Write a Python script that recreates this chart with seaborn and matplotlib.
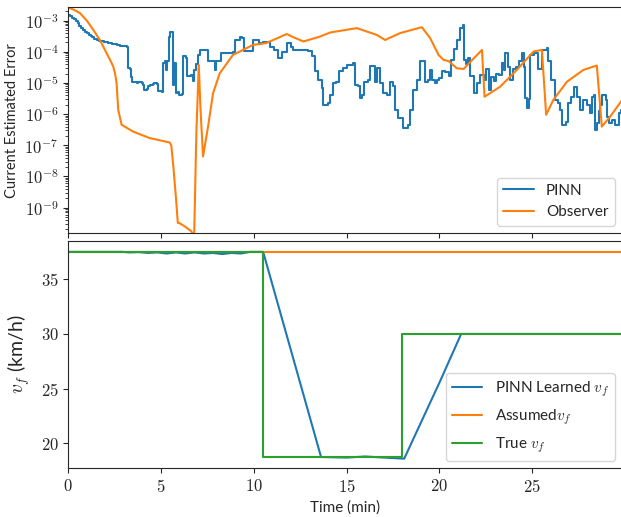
import numpy as np
import pandas as pd
import matplotlib
matplotlib.use("Agg")
import matplotlib.pyplot as plt
import matplotlib.ticker as mticker
import seaborn as sns

# PINN estimated error (time in min, log10 of error)
pinn_t = [0.0, 0.1, 0.2, 0.3, 0.4, 0.5, 0.6, 0.7, 0.81, 0.9, 1.0, 1.1, 1.2, 1.3, 1.4, 1.53, 1.65,
          1.8, 1.9, 2.0, 2.12, 2.24, 2.37, 2.5, 2.65, 2.8, 3.0, 3.14, 3.19, 3.35, 3.38, 3.41, 3.70,
          3.75, 3.95, 4.00,
          4.07, 4.25, 4.30, 4.40, 4.55, 4.60, 4.80, 4.85, 5.05, 5.08, 5.12, 5.20, 5.25, 5.33, 5.43,
          5.50, 5.62, 5.66, 5.72, 5.80, 5.90, 5.97, 6.10, 6.18, 6.35, 6.42, 6.60, 6.72, 6.80, 6.90,
          7.00, 7.10, 7.45, 7.53, 7.80, 7.89, 7.95, 8.25, 8.90, 8.96, 9.23, 9.35, 9.45, 9.85, 9.95,
          10.3, 10.5, 10.87, 11.1, 11.32, 11.5, 11.77, 12.0, 12.13, 12.94, 13.12, 13.30, 13.48, 13.66,
          13.75, 14.0, 14.11, 14.29, 14.45, 14.56, 14.80, 15.0, 15.36, 15.45, 15.60, 15.72, 15.85,
          15.95, 16.15, 16.26, 16.45, 16.52, 16.63, 16.80, 16.98, 17.15, 17.34, 17.50, 17.61, 17.79,
          17.95, 18.06, 18.30, 18.42, 18.60, 18.78, 18.96, 19.10, 19.23, 19.40, 19.50, 19.60, 19.75,
          19.85, 20.0, 20.13, 20.30, 20.49, 20.60, 20.80, 20.94, 21.12, 21.27, 21.33, 21.45, 21.52,
          21.66, 21.84, 22.0, 22.2, 22.4, 22.5, 22.65, 22.8, 22.95, 23.05, 23.2, 23.37, 23.46, 23.55,
          23.7, 23.8, 23.95, 24.1, 24.3, 24.44, 24.55, 24.62, 24.71, 24.80, 24.89, 25.1, 25.3, 25.52,
          25.79, 25.85, 26.0, 26.24, 26.40, 26.51, 26.60, 26.80, 26.95, 27.1, 27.23, 27.40, 27.58,
          27.75, 27.95, 28.1, 28.22, 28.35, 28.40, 28.50, 28.58, 28.66, 28.76, 28.95, 29.05, 29.15,
          29.30, 29.47, 29.65, 29.78, 29.85]
pinn_log = [-2.82, -2.86, -2.90, -2.96, -3.02, -3.09, -3.16, -3.23, -3.30, -3.36, -3.41, -3.46, -3.50,
            -3.54, -3.58, -3.62, -3.64, -3.66, -3.675, -3.69, -3.705, -3.72, -3.74, -3.76, -3.78,
            -3.80, -3.82, -3.83, -4.53, -4.56,
            -4.80, -4.96, -5.00, -4.96, -5.00, -5.05, -5.22, -5.18, -5.10, -5.05, -5.03, -5.00, -5.03,
            -5.27, -5.30, -5.10, -4.37, -4.28, -4.60, -4.30, -3.51, -3.35, -3.35, -5.06, -4.37, -5.33,
            -5.30, -5.38, -5.35, -4.15, -4.20, -4.79, -4.75, -4.93, -4.60, -4.40, -4.10, -3.94, -3.94,
            -4.31, -4.30, -4.58, -4.30, -4.04, -4.00, -3.62, -3.51, -3.55, -3.99, -3.99, -3.62, -3.72,
            -3.68, -3.83, -3.95, -4.21, -4.00, -3.72, -3.85, -3.94, -3.96, -4.15, -4.63, -4.90, -5.17,
            -5.70, -5.65, -5.38, -5.01, -4.96, -4.63, -4.52, -4.42, -4.37, -5.06, -5.10, -5.49, -5.40,
            -4.96, -4.90, -4.47, -4.47, -4.96, -4.53, -5.01, -5.33, -5.38, -4.96, -5.10, -5.86, -6.13,
            -6.13, -6.45, -6.35, -5.86, -5.22, -4.90, -4.31, -4.31, -4.96, -4.90, -4.58, -4.90, -5.00,
            -4.90, -4.85, -4.63, -4.66, -4.79, -4.26, -3.90, -3.62, -3.24, -3.14, -4.26, -4.40, -4.20,
            -4.79, -5.33, -5.00, -4.75, -4.90, -4.55, -5.22, -4.80, -4.95, -4.70, -4.75, -4.37, -4.60,
            -4.04, -4.50, -4.90, -4.55, -4.50, -4.30, -4.04, -4.50, -5.49, -5.81, -5.50, -4.10, -4.04,
            -4.55, -3.94, -3.89, -4.30, -4.90, -5.54, -5.65, -5.86, -6.34, -6.25, -5.65, -5.45, -5.12,
            -5.45, -5.86, -5.54, -5.70, -5.95, -5.44, -5.38, -6.50, -6.30, -5.90, -5.70, -5.38, -5.54,
            -6.08, -6.30, -6.20, -6.34, -5.95, -5.86, -5.86]

# Observer estimated error
obs_t = [0.0, 0.3, 0.63, 1.00, 1.35, 1.70, 2.06, 2.30, 2.42, 2.52, 2.60, 2.69, 2.87, 3.49, 4.39, 5.46,
         5.55, 5.66, 5.81, 5.90, 6.00, 6.27, 6.63, 6.78, 6.90, 7.03, 7.12, 7.26, 7.53, 7.80, 8.16,
         8.87, 9.95, 10.66, 11.77, 12.20, 12.67, 13.57, 14.11, 15.55, 16.63, 17.07, 17.88, 19.05,
         19.5, 19.95, 20.22, 20.50, 20.94, 21.3, 22.29, 22.43, 23.27, 24.17, 25.07, 25.52, 25.75,
         26.14, 26.87, 27.76, 28.48, 28.75, 29.2, 29.85]
obs_log = [-2.58, -2.65, -2.76, -3.00, -3.30, -3.62, -4.04, -4.32, -4.47, -4.70, -5.00, -5.86, -6.34,
           -6.56, -6.77, -6.91, -7.00, -7.68, -8.75, -9.49, -9.50, -9.60, -9.76, -9.95, -6.61, -4.42,
           -5.80, -7.36, -6.40, -5.33, -4.69, -4.10, -3.78, -3.72, -3.43, -3.55, -3.67, -3.51, -3.38,
           -3.24, -3.46, -3.62, -3.40, -3.21, -3.56, -4.10, -4.26, -4.30, -4.53, -4.55, -3.94, -5.44,
           -5.12, -4.58, -3.99, -3.94, -6.02, -5.54, -4.96, -4.58, -4.44, -6.40, -6.08, -5.54]

# free-flow speed v_f (km/h)
learned_t = [0, 2.9, 3.3, 3.8, 4.3, 4.8, 5.3, 5.8, 6.3, 6.8, 7.3, 7.8, 8.3, 8.8, 9.3, 9.8, 10.5,
             13.62, 15.0, 16.0, 17.0, 18.1, 20.04, 21.17, 25.0, 29.85]
learned_v = [37.5, 37.5, 37.45, 37.48, 37.4, 37.45, 37.35, 37.45, 37.35, 37.45, 37.35, 37.4, 37.3,
             37.4, 37.35, 37.5, 37.5, 18.75, 18.7, 18.8, 18.7, 18.6, 25.7, 30.0, 30.0, 30.0]
assumed_t = [0, 29.85]
assumed_v = [37.5, 37.5]
true_t = [0, 10.5, 10.5, 18.0, 18.0, 29.85]
true_v = [37.5, 37.5, 18.75, 18.75, 30.0, 30.0]

err_ticks = [1e-9, 1e-8, 1e-7, 1e-6, 1e-5, 1e-4, 1e-3]

sns.set_style("ticks")
plt.rcParams["font.family"] = ["Lato", "DejaVu Sans"]
plt.rcParams["mathtext.fontset"] = "cm"
pal = sns.color_palette("tab10")

fig = plt.figure(figsize=(6.21, 5.17), dpi=100)
ax1 = fig.add_axes([0.110, 0.549, 0.892, 0.437])
ax2 = fig.add_axes([0.110, 0.094, 0.892, 0.440], sharex=ax1)

err = pd.DataFrame({"t": pinn_t, "e": 10 ** np.array(pinn_log)})
obs = pd.DataFrame({"t": obs_t, "e": 10 ** np.array(obs_log)})
sns.lineplot(data=err, x="t", y="e", ax=ax1, color=pal[0], lw=1.5, label="PINN",
             estimator=None, sort=False, drawstyle="steps-post")
sns.lineplot(data=obs, x="t", y="e", ax=ax1, color=pal[1], lw=1.5, label="Observer",
             estimator=None, sort=False)
ax1.set_yscale("log")
ax1.set_ylim(10 ** -9.82, 10 ** -2.57)
ax1.yaxis.set_major_locator(mticker.FixedLocator(err_ticks))
ax1.yaxis.set_minor_locator(mticker.LogLocator(base=10, subs=np.arange(2, 10), numticks=20))
ax1.yaxis.set_major_formatter(mticker.FuncFormatter(lambda v, p: r"$10^{%d}$" % round(np.log10(v))))
ax1.yaxis.set_minor_formatter(mticker.NullFormatter())
ax1.set_ylabel("Current Estimated Error", fontsize=10.5)
ax1.set_xlabel("")
ax1.tick_params(labelbottom=False, labelsize=12)
ax1.legend(loc="lower right", fontsize=11, handlelength=2.0)

sns.lineplot(x=learned_t, y=learned_v, ax=ax2, color=pal[0], lw=1.5, label=r"PINN Learned $v_f$",
             estimator=None, sort=False)
sns.lineplot(x=assumed_t, y=assumed_v, ax=ax2, color=pal[1], lw=1.5, label=r"Assumed$v_f$",
             estimator=None, sort=False)
sns.lineplot(x=true_t, y=true_v, ax=ax2, color=pal[2], lw=1.5, label=r"True $v_f$",
             estimator=None, sort=False)
ax2.set_xlim(0, 29.85)
ax2.set_ylim(17.71, 38.5)
ax2.set_yticks([20, 25, 30, 35])
ax2.set_xticks([0, 5, 10, 15, 20, 25])
fmt = mticker.FuncFormatter(lambda v, p: r"$%d$" % v)
ax2.xaxis.set_major_formatter(fmt)
ax2.yaxis.set_major_formatter(fmt)
ax2.tick_params(labelsize=12)
ax2.set_xlabel("Time (min)", fontsize=11)
ax2.set_ylabel(r"$v_f$ (km/h)", fontsize=14, labelpad=6)
ax2.legend(loc="lower right", fontsize=11, handlelength=2.0, labelspacing=0.55)

fig.savefig("out.png", dpi=100)
